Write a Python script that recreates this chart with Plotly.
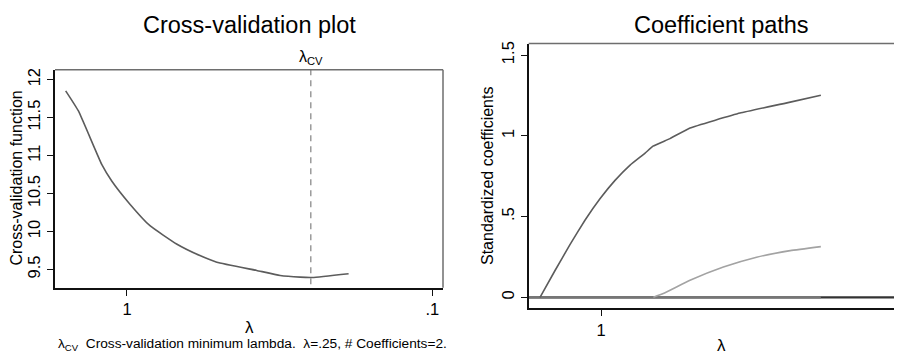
import math
import plotly.graph_objects as go

# ---- data ----
cv_lambda = [1.588, 1.444, 1.210, 1.122, 0.978, 0.841, 0.688, 0.577, 0.508, 0.376, 0.315, 0.271, 0.247, 0.188]
cv_value = [11.852, 11.590, 10.883, 10.665, 10.360, 10.076, 9.836, 9.683, 9.596, 9.487, 9.421, 9.399, 9.395, 9.444]
lambda_cv = 0.25

c1_lambda = [1.597, 1.423, 1.269, 1.131, 1.008, 0.898, 0.800, 0.713, 0.671, 0.589, 0.505, 0.344, 0.234, 0.185]
c1_value = [0.0, 0.166, 0.326, 0.477, 0.610, 0.724, 0.819, 0.893, 0.936, 0.983, 1.049, 1.141, 1.209, 1.252]

c2_lambda = [0.669, 0.620, 0.505, 0.391, 0.303, 0.234, 0.185]
c2_value = [0.0, 0.023, 0.105, 0.187, 0.248, 0.289, 0.314]

zero_lambda = [1.742, 0.185]
zero_value = [0.0, 0.0]

cv_yticks = [9.5, 10, 10.5, 11, 11.5, 12]
cv_yticktext = ["9.5", "10", "10.5", "11", "11.5", "12"]
cp_yticks = [0, 0.5, 1, 1.5]
cp_yticktext = ["0", ".5", "1", "1.5"]
x_ticks = [1, 0.1]
x_ticktext = ["1", ".1"]

FONT = "Liberation Sans, Arial, sans-serif"
OFF = 8  # default page body margin
W, H = 902 - OFF, 354 - OFF


def px(x):
    return (x - OFF) / W


def py(y):
    return 1 - (y - OFF) / H


fig = go.Figure()

# left panel: CV function
fig.add_trace(go.Scatter(x=cv_lambda, y=cv_value, mode="lines",
                         line=dict(color="#5c5c5c", width=1.6, shape="spline", smoothing=0.4),
                         xaxis="x", yaxis="y", showlegend=False, hoverinfo="skip"))
fig.add_trace(go.Scatter(x=[lambda_cv, lambda_cv], y=[8.0, 13.0], mode="lines",
                         line=dict(color="#8a8a8a", width=1.3, dash="6px,5px"),
                         xaxis="x", yaxis="y", showlegend=False, hoverinfo="skip"))

# right panel: coefficient paths
fig.add_trace(go.Scatter(x=[3.0, 0.05], y=[0, 0], mode="lines",
                         line=dict(color="#333333", width=2.2), xaxis="x2", yaxis="y2",
                         showlegend=False, hoverinfo="skip"))
fig.add_trace(go.Scatter(x=zero_lambda, y=zero_value, mode="lines",
                         line=dict(color="#767676", width=2.4), xaxis="x2", yaxis="y2",
                         showlegend=False, hoverinfo="skip"))
fig.add_trace(go.Scatter(x=c2_lambda, y=c2_value, mode="lines",
                         line=dict(color="#a3a3a3", width=1.6, shape="spline", smoothing=0.4),
                         xaxis="x2", yaxis="y2", showlegend=False, hoverinfo="skip"))
fig.add_trace(go.Scatter(x=c1_lambda, y=c1_value, mode="lines",
                         line=dict(color="#5c5c5c", width=1.6, shape="spline", smoothing=0.3),
                         xaxis="x2", yaxis="y2", showlegend=False, hoverinfo="skip"))

axis_common = dict(showgrid=False, zeroline=False, showline=True, linecolor="#111111",
                   linewidth=2, ticks="outside", ticklen=6, tickcolor="#111111",
                   tickwidth=1.2, tickfont=dict(family=FONT, size=16.5, color="#000"))

fig.update_layout(
    width=W, height=H,
    margin=dict(l=0, r=0, t=0, b=0),
    paper_bgcolor="white", plot_bgcolor="white",
    font=dict(family=FONT, color="#000"),
    xaxis=dict(type="log", domain=[px(55), px(443)], range=[0.2358, -1.035],
               tickvals=x_ticks, ticktext=x_ticktext, anchor="y", **axis_common),
    yaxis=dict(domain=[py(287.3), py(68)], range=[9.26, 12.131],
               tickvals=cv_yticks, ticktext=cv_yticktext, tickangle=-90, anchor="x",
               **axis_common),
    xaxis2=dict(type="log", domain=[px(528.7), 1.0], range=[0.241, -1.0033],
                tickvals=x_ticks, ticktext=x_ticktext, anchor="y2", **axis_common),
    yaxis2=dict(domain=[py(308), py(41.7)], range=[-0.068, 1.572],
                tickvals=cp_yticks, ticktext=cp_yticktext, tickangle=-90, anchor="x2",
                **axis_common),
)

# grey top / right frame lines
fig.add_shape(type="line", xref="x domain", yref="y domain", x0=0, x1=1, y0=1, y1=1,
              line=dict(color="#6e6e6e", width=1.5))
fig.add_shape(type="line", xref="x domain", yref="y domain", x0=1, x1=1, y0=0, y1=1,
              line=dict(color="#6e6e6e", width=1.5))
fig.add_shape(type="line", xref="x2 domain", yref="y2 domain", x0=0, x1=1, y0=1, y1=1,
              line=dict(color="#6e6e6e", width=1.5))


def label(text, x, y, size, angle=0):
    return dict(text=text, xref="paper", yref="paper", x=px(x), y=py(y),
                xanchor="center", yanchor="middle", showarrow=False, textangle=angle,
                font=dict(family=FONT, size=size, color="#000"))


annotations = [
    label("Cross-validation plot", 249, 23, 23.5),
    label("Coefficient paths", 721, 23, 23.5),
    label("Cross-validation function", 17, 177.5, 16, -90),
    label("Standardized coefficients", 487, 175, 16, -90),
    label("λ", 249, 327, 17),
    label("λ", 721, 345, 17),
    label("λ<sub>CV</sub>  Cross-validation minimum lambda.  λ=.25, # Coefficients=2.",
          252, 344.5, 13.7),
    dict(text="λ<sub>CV</sub>", xref="x", yref="y domain", x=math.log10(lambda_cv), y=1,
         xanchor="center", yanchor="bottom", yshift=1, showarrow=False,
         font=dict(family=FONT, size=16, color="#000")),
]
fig.update_layout(annotations=annotations)

fig.write_html("out.html")
